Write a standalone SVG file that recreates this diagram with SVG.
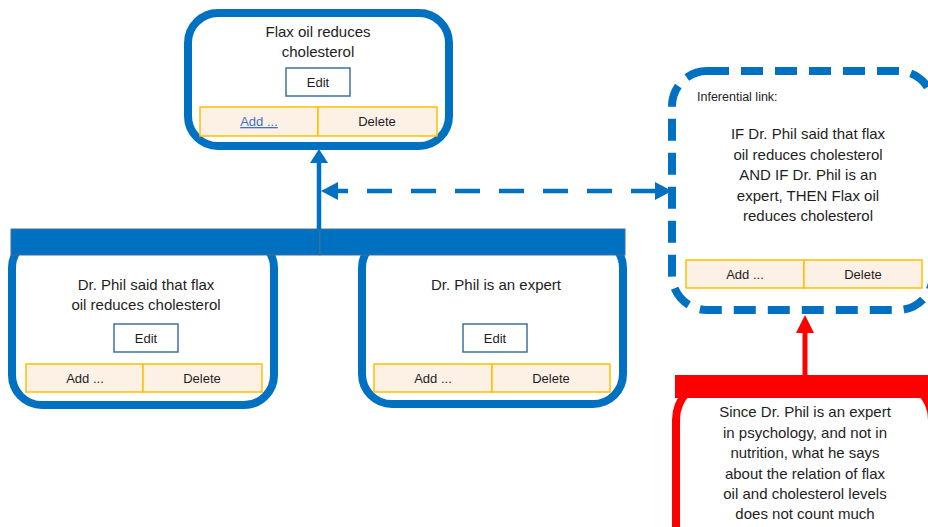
<svg xmlns="http://www.w3.org/2000/svg" width="928" height="527" viewBox="0 0 928 527">
<style>
text{font-family:"Liberation Sans",Arial,sans-serif;fill:#1e1e1e}
.t{font-size:15px;text-anchor:middle}
.b{font-size:13px;text-anchor:middle}
.s{font-size:12.5px}
.link{fill:#4472c4;text-decoration:underline}
.node{fill:#fff;stroke:#0070c0;stroke-width:8}
.dash{fill:#fff;stroke:#0070c0;stroke-width:8;stroke-dasharray:22 12}
.red{fill:#fff;stroke:#ff0000;stroke-width:8}
.edit{fill:#fff;stroke:#41719c;stroke-width:1.5}
.btn{fill:#fdf1e6;stroke:#ffc000;stroke-width:1.5}
.bar{fill:#0070c0;stroke:#41719c;stroke-width:1}
.rbar{fill:#ff0000}
.con{fill:none;stroke:#0070c0;stroke-width:4.5}
.rcon{fill:none;stroke:#ff0000;stroke-width:5}
</style>
<defs>
<marker id="ab" markerUnits="userSpaceOnUse" markerWidth="14" markerHeight="18" viewBox="0 0 14 18" refX="0" refY="9" orient="auto-start-reverse"><path d="M0,0L14,9L0,18z" fill="#0070c0"/></marker>
<marker id="ad" markerUnits="userSpaceOnUse" markerWidth="17" markerHeight="18" viewBox="0 0 17 18" refX="0" refY="9" orient="auto-start-reverse"><path d="M0,0L17,9L0,18z" fill="#0070c0"/></marker>
<marker id="ar" markerUnits="userSpaceOnUse" markerWidth="18" markerHeight="18" viewBox="0 0 18 18" refX="0" refY="9" orient="auto"><path d="M0,0L18,9L0,18z" fill="#ff0000"/></marker>
</defs>

<g id="conclusion">
<rect class="node" x="188" y="13" width="261" height="133" rx="30"/>
<text class="t" x="318" y="37">Flax oil reduces</text>
<text class="t" x="318" y="57">cholesterol</text>
<rect class="edit" x="286" y="68" width="64" height="28"/>
<text class="b" x="318" y="87">Edit</text>
<rect class="btn" x="200" y="107" width="118" height="29"/>
<rect class="btn" x="318" y="107" width="119" height="29"/>
<text class="b link" x="259" y="126">Add ...</text>
<text class="b" x="377" y="126">Delete</text>
</g>

<g id="premise1">
<rect class="node" x="12" y="238" width="262" height="167" rx="30"/>
<rect class="bar" x="11" y="229" width="309" height="26"/>
<text class="t" x="146" y="290">Dr. Phil said that flax</text>
<text class="t" x="146" y="310">oil reduces cholesterol</text>
<rect class="edit" x="114" y="324" width="64" height="28"/>
<text class="b" x="146" y="343">Edit</text>
<rect class="btn" x="26" y="364" width="117" height="28"/>
<rect class="btn" x="143" y="364" width="119" height="28"/>
<text class="b" x="85" y="383">Add ...</text>
<text class="b" x="202" y="383">Delete</text>
</g>

<g id="premise2">
<rect class="node" x="362" y="238" width="261" height="166" rx="30"/>
<rect class="bar" x="320" y="229" width="305" height="26"/>
<text class="t" x="496" y="290">Dr. Phil is an expert</text>
<rect class="edit" x="463" y="324" width="64" height="28"/>
<text class="b" x="495" y="343">Edit</text>
<rect class="btn" x="374" y="364" width="118" height="28"/>
<rect class="btn" x="492" y="364" width="118" height="28"/>
<text class="b" x="433" y="383">Add ...</text>
<text class="b" x="551" y="383">Delete</text>
</g>

<g id="inferential-link">
<rect class="dash" x="672" y="71" width="261" height="239" rx="35"/>
<text class="s" x="697" y="101">Inferential link:</text>
<text class="t" x="808" y="139">IF Dr. Phil said that flax</text>
<text class="t" x="808" y="160">oil reduces cholesterol</text>
<text class="t" x="808" y="180">AND IF Dr. Phil is an</text>
<text class="t" x="808" y="201">expert, THEN Flax oil</text>
<text class="t" x="808" y="221">reduces cholesterol</text>
<rect class="btn" x="686" y="260" width="118" height="28"/>
<rect class="btn" x="804" y="260" width="118" height="28"/>
<text class="b" x="745" y="279">Add ...</text>
<text class="b" x="863" y="279">Delete</text>
</g>

<g id="objection">
<rect class="red" x="676" y="380" width="256" height="220" rx="40"/>
<rect class="rbar" x="675" y="375" width="265" height="23"/>
<text class="t" x="805" y="417">Since Dr. Phil is an expert</text>
<text class="t" x="805" y="438">in psychology, and not in</text>
<text class="t" x="805" y="458">nutrition, what he says</text>
<text class="t" x="805" y="479">about the relation of flax</text>
<text class="t" x="805" y="499">oil and cholesterol levels</text>
<text class="t" x="805" y="519">does not count much</text>
</g>

<g id="connectors">
<path class="con" d="M319,229L319,163" marker-end="url(#ab)"/>
<path class="con" d="M338,191L655,191" stroke-dasharray="25 19" stroke-dashoffset="15" marker-start="url(#ad)" marker-end="url(#ad)"/>
<path class="rcon" d="M805,375L805,333" marker-end="url(#ar)"/>
</g>
</svg>
